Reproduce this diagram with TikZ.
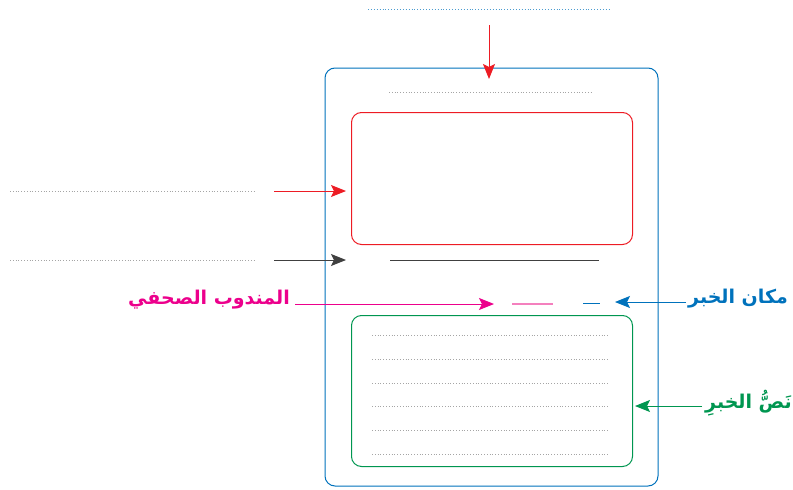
\documentclass[tikz,border=0pt]{standalone}
\usepackage{fontspec}
\newfontfamily\arabicfont[Script=Arabic]{DejaVu Sans}
\TeXXeTstate=1
\usetikzlibrary{arrows.meta}
\definecolor{cblue}{RGB}{0,114,188}
\definecolor{cred}{RGB}{237,28,36}
\definecolor{cmag}{RGB}{236,0,140}
\definecolor{cpink}{RGB}{244,128,190}
\definecolor{cgreen}{RGB}{0,150,80}
\definecolor{cgray}{RGB}{165,165,165}
\definecolor{cdark}{RGB}{64,64,64}
\tikzset{
  box/.style={draw, rounded corners=10pt, line width=1pt},
  blank/.style={draw=cgray, line width=0.8pt, dotted},
  pointer/.style={line width=1pt, -{Stealth[length=15pt,width=12pt,inset=3pt]}},
  lbl/.style={font=\arabicfont\bfseries\fontsize{19}{22}\selectfont, inner sep=0pt},
}
\begin{document}
\begin{tikzpicture}[x=1pt,y=-1pt]
\useasboundingbox (0,0) rectangle (793,490);
% outer page
\draw[box, draw=cblue] (325,68) rectangle (658,486);
% top heading blank
\draw[draw=cblue!70, line width=0.9pt, dotted] (368,9) -- (611,9);
\coordinate (topsrc) at (489,25);
\coordinate (toptgt) at (489,79);
\draw[pointer, cred] (topsrc) -- (toptgt);
\draw[blank] (389,92) -- (593,92);
% picture box
\node[box, draw=cred, minimum width=281pt, minimum height=132pt, anchor=north west] (pic) at (351,112) {};
% left blanks
\draw[blank] (10,191) -- (255,191);
\draw[blank] (10,260) -- (255,260);
\coordinate (a1) at (274,191);
\coordinate (b1) at (346,191);
\coordinate (a2) at (274,260);
\coordinate (b2) at (346,260);
\draw[pointer, cred] (a1) -- (b1);
\draw[pointer, cdark] (a2) -- (b2);
% caption line
\draw[cdark, line width=1pt] (390,260) -- (599,260);
% reporter
\node[lbl, text=cmag, anchor=east] (rep) at (290,300) {\beginR المندوب الصحفي\endR};
\coordinate (repS) at (295,304);
\coordinate (repT) at (494,304);
\draw[pointer, cmag] (repS) -- (repT);
\draw[cpink, line width=1.2pt] (512,304) -- (553,304);
% place
\node[lbl, text=cblue, anchor=west] (place) at (688,299) {\beginR مكان الخبر\endR};
\coordinate (placeS) at (686,302);
\coordinate (placeT) at (615,302);
\draw[pointer, cblue] (placeS) -- (placeT);
\draw[cblue, line width=1pt] (583,303) -- (600,303);
% text box
\node[box, draw=cgreen, minimum width=281pt, minimum height=151pt, anchor=north west] (txt) at (351,315) {};
\foreach \y in {335,359,383,406,430,454} \draw[blank] (372,\y) -- (609,\y);
\node[lbl, text=cgreen, anchor=west] (body) at (705,403) {\beginR نَصُّ الخبرِ\endR};
\coordinate (bodyS) at (702,406);
\coordinate (bodyT) at (635,406);
\draw[pointer, cgreen] (bodyS) -- (bodyT);
\end{tikzpicture}
\end{document}
